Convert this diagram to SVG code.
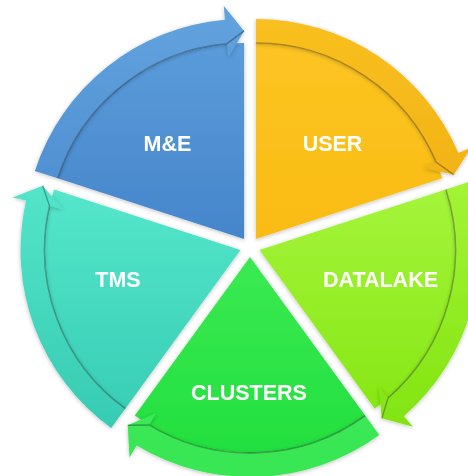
<svg xmlns="http://www.w3.org/2000/svg" width="468" height="476" viewBox="0 0 468 476">
<defs>
<linearGradient id="gB" gradientUnits="userSpaceOnUse" x1="0" y1="6" x2="0" y2="239"><stop offset="0" stop-color="#5fa0de"/><stop offset="1" stop-color="#4585ca"/></linearGradient>
<linearGradient id="gBa" gradientUnits="userSpaceOnUse" x1="0" y1="6" x2="0" y2="239"><stop offset="0" stop-color="#62a3df"/><stop offset="1" stop-color="#4a8acd"/></linearGradient>
<linearGradient id="gY" gradientUnits="userSpaceOnUse" x1="0" y1="19" x2="0" y2="239"><stop offset="0" stop-color="#fdc525"/><stop offset="1" stop-color="#f9bc12"/></linearGradient>
<linearGradient id="gYa" gradientUnits="userSpaceOnUse" x1="0" y1="19" x2="0" y2="239"><stop offset="0" stop-color="#f9c020"/><stop offset="1" stop-color="#efae12"/></linearGradient>
<linearGradient id="gL" gradientUnits="userSpaceOnUse" x1="0" y1="182" x2="0" y2="427"><stop offset="0" stop-color="#a6f53c"/><stop offset="1" stop-color="#84e612"/></linearGradient>
<linearGradient id="gLa" gradientUnits="userSpaceOnUse" x1="0" y1="182" x2="0" y2="427"><stop offset="0" stop-color="#a3f436"/><stop offset="1" stop-color="#82e410"/></linearGradient>
<linearGradient id="gG" gradientUnits="userSpaceOnUse" x1="0" y1="257" x2="0" y2="458"><stop offset="0" stop-color="#3aea52"/><stop offset="1" stop-color="#22df3e"/></linearGradient>
<linearGradient id="gGa" gradientUnits="userSpaceOnUse" x1="0" y1="257" x2="0" y2="458"><stop offset="0" stop-color="#44ec5e"/><stop offset="1" stop-color="#38e752"/></linearGradient>
<linearGradient id="gT" gradientUnits="userSpaceOnUse" x1="0" y1="185" x2="0" y2="428"><stop offset="0" stop-color="#55e7cb"/><stop offset="1" stop-color="#36ccb4"/></linearGradient>
<linearGradient id="gTa" gradientUnits="userSpaceOnUse" x1="0" y1="185" x2="0" y2="428"><stop offset="0" stop-color="#53e5c9"/><stop offset="1" stop-color="#37cbb3"/></linearGradient>
<filter id="sh" x="-10%" y="-10%" width="120%" height="120%"><feGaussianBlur in="SourceAlpha" stdDeviation="2"/><feOffset dx="0" dy="1"/><feComponentTransfer><feFuncA type="linear" slope="0.25"/></feComponentTransfer><feMerge><feMergeNode/><feMergeNode in="SourceGraphic"/></feMerge></filter>
<filter id="bl"><feGaussianBlur stdDeviation="0.7"/></filter>
</defs>
<style>
.lbl{font-family:"Liberation Sans",Arial,sans-serif;font-weight:bold;font-size:21.5px;fill:#ffffff;text-anchor:middle}
.ln{fill:none;stroke:#000;stroke-opacity:0.3;stroke-width:1.4;filter:url(#bl)}
</style>
<g id="node-me" filter="url(#sh)">
<path d="M 244.12 238.91 L 57.71 178.34 A 196 196 0 0 1 244.12 42.91 Z" fill="url(#gB)"/>
<text class="lbl" x="167.5" y="151">M&amp;E</text>
</g>
<g id="node-user" filter="url(#sh)">
<path d="M 255.88 238.91 L 255.88 42.91 A 196 196 0 0 1 442.29 178.34 Z" fill="url(#gY)"/>
<text class="lbl" x="332.5" y="151">USER</text>
</g>
<g id="node-datalake" filter="url(#sh)">
<path d="M 259.51 250.09 L 445.92 189.52 A 196 196 0 0 1 374.72 408.66 Z" fill="url(#gL)"/>
<text class="lbl" x="380.5" y="287">DATALAKE</text>
</g>
<g id="node-clusters" filter="url(#sh)">
<path d="M 250 257 L 365.21 415.57 A 196 196 0 0 1 134.79 415.57 Z" fill="url(#gG)"/>
<text class="lbl" x="249" y="400">CLUSTERS</text>
</g>
<g id="node-tms" filter="url(#sh)">
<path d="M 240.49 250.09 L 125.28 408.66 A 196 196 0 0 1 54.08 189.52 Z" fill="url(#gT)"/>
<text class="lbl" x="118" y="287">TMS</text>
</g>
<g id="connectors" filter="url(#sh)">
<path d="M 34.89 170.93 A 220 220 0 0 1 224.94 19.75 L 223.72 5.80 L 244.12 30.91 L 228.26 57.60 L 227.04 43.66 A 196 196 0 0 0 57.71 178.34 Z" fill="url(#gBa)"/>
<path class="ln" d="M 57.71 178.34 A 196 196 0 0 1 227.04 43.66 L 244.12 30.91"/>
<path d="M 255.88 18.91 A 220 220 0 0 1 458.39 152.95 L 471.28 147.48 L 453.70 174.63 L 423.41 167.80 L 436.30 162.33 A 196 196 0 0 0 255.88 42.91 Z" fill="url(#gYa)"/>
<path class="ln" d="M 255.88 42.91 A 196 196 0 0 1 436.30 162.33 L 453.70 174.63"/>
<path d="M 468.74 182.11 A 220 220 0 0 1 403.84 416.13 L 413.03 426.69 L 381.77 418.37 L 378.91 387.45 L 388.10 398.01 A 196 196 0 0 0 445.92 189.52 Z" fill="url(#gLa)"/>
<path class="ln" d="M 445.92 189.52 A 196 196 0 0 1 388.10 398.01 L 381.77 418.37"/>
<path d="M 379.31 434.98 A 220 220 0 0 1 136.69 445.58 L 129.48 457.58 L 127.74 425.28 L 156.26 413.00 L 149.05 425.01 A 196 196 0 0 0 365.21 415.57 Z" fill="url(#gGa)"/>
<path class="ln" d="M 365.21 415.57 A 196 196 0 0 1 149.05 425.01 L 127.74 425.28"/>
<path d="M 111.18 428.07 A 220 220 0 0 1 26.13 200.60 L 12.49 197.45 L 42.67 185.81 L 63.15 209.15 L 49.51 206.00 A 196 196 0 0 0 125.28 408.66 Z" fill="url(#gTa)"/>
<path class="ln" d="M 125.28 408.66 A 196 196 0 0 1 49.51 206.00 L 42.67 185.81"/>
</g>
</svg>
